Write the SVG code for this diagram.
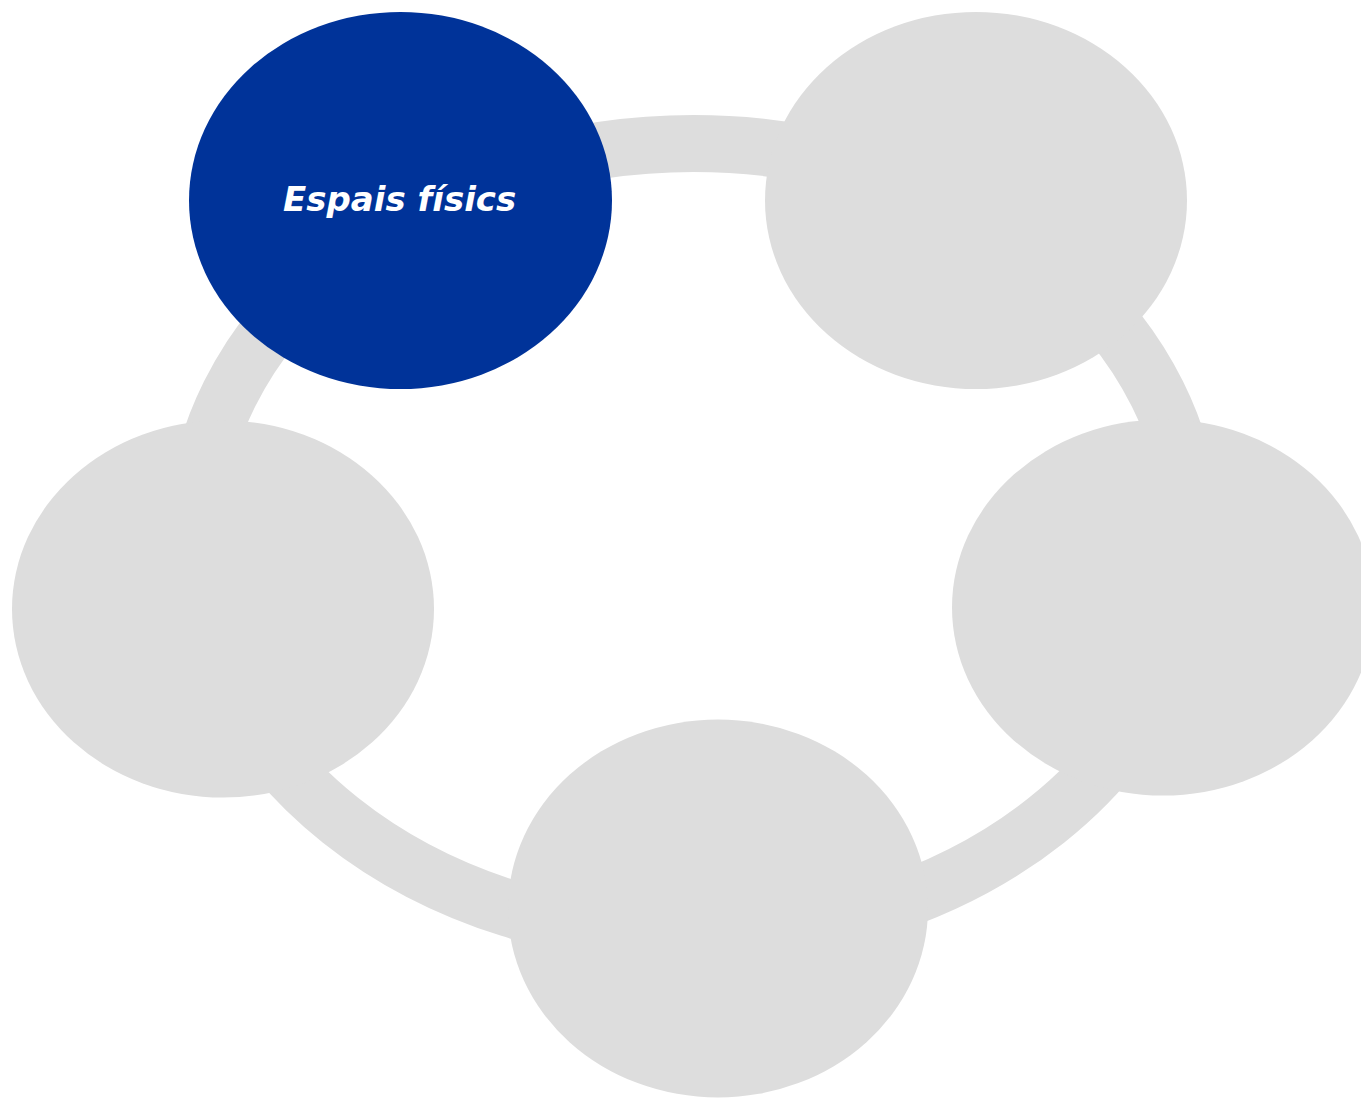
<svg xmlns="http://www.w3.org/2000/svg" width="1361" height="1098" viewBox="0 0 1361 1098">
<style>
.node{fill:#DDDDDD}
.active{fill:#003399}
.ring{fill:none;stroke:#DDDDDD;stroke-width:57}
.label{font-family:"DejaVu Sans",Verdana,sans-serif;font-weight:bold;font-style:italic;font-size:34px;fill:#FFFFFF}
</style>
<rect width="1361" height="1098" fill="#FFFFFF"/>
<g id="connectors">
<ellipse class="ring" cx="693.5" cy="540" rx="499" ry="396.5"/>
</g>
<g id="node-espais-fisics">
<ellipse class="active" cx="400.5" cy="200.5" rx="211.5" ry="188.5"/>
<text class="label" x="283" y="211">Espais físics</text>
</g>
<g id="node-2">
<ellipse class="node" cx="976" cy="200.5" rx="211" ry="188.5"/>
</g>
<g id="node-3">
<ellipse class="node" cx="1163" cy="607.5" rx="211" ry="188"/>
</g>
<g id="node-4">
<ellipse class="node" cx="718" cy="908.5" rx="210" ry="189"/>
</g>
<g id="node-5">
<ellipse class="node" cx="223" cy="609" rx="211" ry="188.5"/>
</g>
</svg>
